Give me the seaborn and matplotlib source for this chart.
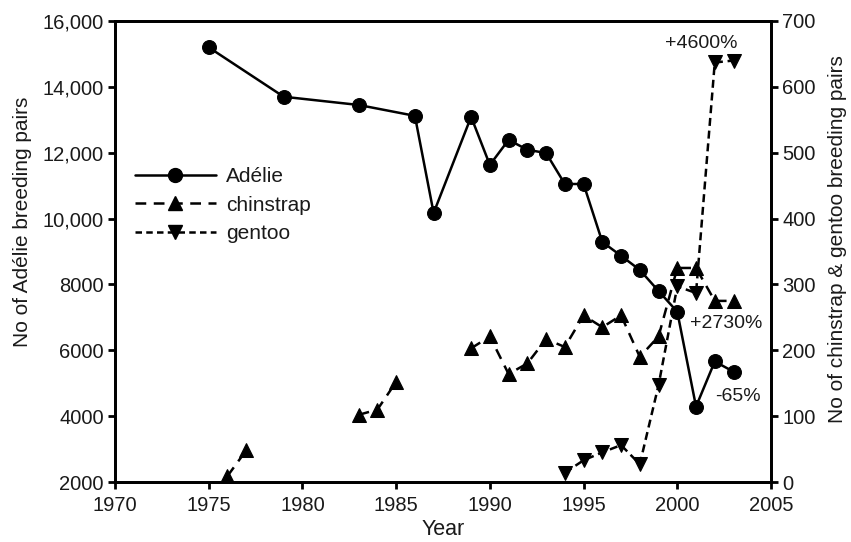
import numpy as np
import pandas as pd
import matplotlib
matplotlib.use("Agg")
import matplotlib.pyplot as plt
from matplotlib.lines import Line2D
import seaborn as sns

sns.set_style("ticks")
plt.rcParams['font.family'] = ['Liberation Sans', 'DejaVu Sans']

# ---- data ----
adelie_years = [1975, 1979, 1983, 1986, 1987, 1989, 1990, 1991, 1992, 1993, 1994,
                1995, 1996, 1997, 1998, 1999, 2000, 2001, 2002, 2003]
adelie_pairs = [15200, 13700, 13450, 13120, 10170, 13090, 11630, 12390, 12090, 11990,
                11050, 11050, 9290, 8870, 8440, 7800, 7170, 4290, 5660, 5350]

chinstrap_years = [1976, 1977, 1983, 1984, 1985, 1989, 1990, 1991, 1992, 1993, 1994,
                   1995, 1996, 1997, 1998, 1999, 2000, 2001, 2002, 2003]
chinstrap_pairs = [9, 48, 102, 110, 152, 203, 221, 164, 180, 217, 205,
                   253, 235, 253, 190, 221, 325, 325, 275, 275]
chinstrap_segment = [0, 0, 1, 1, 1, 2, 2, 2, 2, 2, 2,
                     2, 2, 2, 2, 2, 2, 2, 2, 2]

gentoo_years = [1994, 1995, 1996, 1997, 1998, 1999, 2000, 2001, 2002, 2003]
gentoo_pairs = [14, 33, 45, 56, 27, 147, 297, 287, 637, 640]

left_ticks = [2000, 4000, 6000, 8000, 10000, 12000, 14000, 16000]
left_ticklabels = ["2000", "4000", "6000", "8000", "10,000", "12,000", "14,000", "16,000"]
right_ticks = [0, 100, 200, 300, 400, 500, 600, 700]
x_ticks = [1970, 1975, 1980, 1985, 1990, 1995, 2000, 2005]

adelie_df = pd.DataFrame({"Year": adelie_years, "pairs": adelie_pairs})
chin_df = pd.DataFrame({"Year": chinstrap_years, "pairs": chinstrap_pairs,
                        "seg": chinstrap_segment})
gen_df = pd.DataFrame({"Year": gentoo_years, "pairs": gentoo_pairs, "seg": 0})

# ---- figure ----
fig = plt.figure(figsize=(8.51, 5.42), dpi=100)
ax = fig.add_axes([115 / 851, 1 - 482 / 542, (771 - 115) / 851, (482 - 21) / 542])
ax2 = ax.twinx()

lw = 1.8
ms = 10
chin_ls = (0, (4.3, 3.0))
gen_ls = (0, (3.2, 1.9))
leg_gen_ls = (0, (2.6, 1.7))

sns.lineplot(data=adelie_df, x="Year", y="pairs", ax=ax, color="black", lw=lw,
             marker="o", markersize=ms, markeredgecolor="black", legend=False)
sns.lineplot(data=chin_df, x="Year", y="pairs", units="seg", estimator=None, ax=ax2,
             color="black", lw=lw, linestyle=chin_ls, marker="^", markersize=ms + 0.5,
             markeredgecolor="black", legend=False)
sns.lineplot(data=gen_df, x="Year", y="pairs", units="seg", estimator=None, ax=ax2,
             color="black", lw=lw, linestyle=gen_ls, marker="v", markersize=ms + 0.5,
             markeredgecolor="black", legend=False)

ax.set_xlim(1970, 2005)
ax.set_ylim(2000, 16000)
ax2.set_ylim(0, 700)
ax.set_xticks(x_ticks)
ax.set_xticklabels([str(t) for t in x_ticks])
ax.set_yticks(left_ticks)
ax.set_yticklabels(left_ticklabels)
ax2.set_yticks(right_ticks)

for a in (ax, ax2):
    for s in a.spines.values():
        s.set_linewidth(2.0)
        s.set_color("black")
        s.set_visible(True)
    a.tick_params(direction="out", length=5, width=2.0, labelsize=14.5, colors="black",
                  labelcolor="#1a1a1a", pad=3)
    a.grid(False)
ax.tick_params(axis="x", pad=5)

ax.set_xlabel("Year", fontsize=15.5, labelpad=3, color="#1a1a1a")
ax.set_ylabel("No of Adélie breeding pairs", fontsize=15, labelpad=8, color="#1a1a1a")
ax2.set_ylabel("No of chinstrap & gentoo breeding pairs", fontsize=15, labelpad=9,
               color="#1a1a1a")
ax.yaxis.label.set_y(0.564)
ax2.yaxis.label.set_y(0.527)

# annotations
ax2.text(2001.3, 666, "+4600%", fontsize=14, ha="center", va="center", color="#1a1a1a")
ax2.text(2002.6, 241, "+2730%", fontsize=14, ha="center", va="center", color="#1a1a1a")
ax2.text(2003.25, 130, "-65%", fontsize=14, ha="center", va="center", color="#1a1a1a")

handles = [
    Line2D([], [], color="black", lw=lw, marker="o", markersize=ms, label="Adélie"),
    Line2D([], [], color="black", lw=lw, linestyle=chin_ls, marker="^", markersize=ms,
           label="chinstrap"),
    Line2D([], [], color="black", lw=lw, linestyle=leg_gen_ls, marker="v", markersize=ms,
           label="gentoo"),
]
leg = ax.legend(handles=handles, loc="upper left", bbox_to_anchor=(0.03, 0.683),
                frameon=False, fontsize=15, handlelength=3.9, handletextpad=0.5,
                labelspacing=0.46, borderaxespad=0, borderpad=0)
for t in leg.get_texts():
    t.set_color("#1a1a1a")

fig.savefig("out.png", dpi=100)
